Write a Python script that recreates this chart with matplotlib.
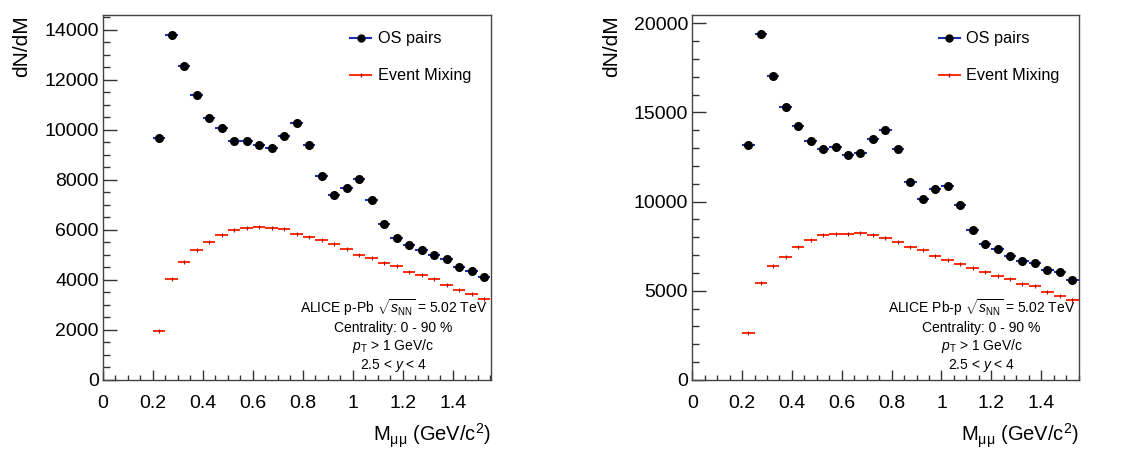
import matplotlib
matplotlib.use('Agg')
from matplotlib import pyplot as plt
from matplotlib.ticker import MultipleLocator

plt.rcParams['font.family'] = ['Liberation Sans', 'DejaVu Sans']
plt.rcParams['mathtext.fontset'] = 'custom'
plt.rcParams['mathtext.rm'] = 'Liberation Sans'
plt.rcParams['mathtext.it'] = 'Liberation Sans:italic'
plt.rcParams['mathtext.bf'] = 'Liberation Sans:bold'

# bin centres (GeV/c^2), bin width 0.05
mass = [0.225, 0.275, 0.325, 0.375, 0.425, 0.475, 0.525, 0.575, 0.625,
        0.675, 0.725, 0.775, 0.825, 0.875, 0.925, 0.975, 1.025, 1.075,
        1.125, 1.175, 1.225, 1.275, 1.325, 1.375, 1.425, 1.475, 1.525]
half_width = 0.025

# p-Pb
os_ppb = [9675, 13790, 12550, 11380, 10460, 10060, 9530, 9535, 9370,
          9260, 9730, 10260, 9370, 8145, 7375, 7665, 8010, 7185,
          6215, 5655, 5390, 5190, 4990, 4830, 4525, 4350, 4125]
em_ppb = [1955, 4045, 4725, 5175, 5495, 5800, 5975, 6055, 6120,
          6080, 6030, 5830, 5710, 5600, 5430, 5230, 4990, 4870,
          4670, 4540, 4300, 4205, 4045, 3805, 3605, 3445, 3245]

# Pb-p
os_pbp = [13185, 19385, 17050, 15295, 14210, 13390, 12940, 13070, 12585,
          12715, 13520, 14025, 12940, 11090, 10160, 10680, 10870, 9785,
          8405, 7600, 7340, 6945, 6665, 6535, 6160, 6030, 5600]
em_pbp = [2615, 5435, 6370, 6910, 7450, 7825, 8140, 8180, 8180,
          8235, 8125, 7955, 7710, 7430, 7300, 6930, 6740, 6500,
          6275, 6030, 5845, 5660, 5380, 5245, 4910, 4685, 4465]

panels = [
    dict(os=os_ppb, em=em_ppb, system='p-Pb', ymax=14580, ymaj=2000, ymin=500,
         rect=[0.0918, 0.1556, 0.3458, 0.8111]),
    dict(os=os_pbp, em=em_pbp, system='Pb-p', ymax=20460, ymaj=5000, ymin=1000,
         rect=[0.6170, 0.1556, 0.3447, 0.8111]),
]

fig = plt.figure(figsize=(11.22, 4.5), dpi=100)

for p in panels:
    ax = fig.add_axes(p['rect'])

    ax.errorbar(mass, p['em'], xerr=half_width, fmt='none', ecolor='#ff2a0a',
                elinewidth=1.4, capsize=0, zorder=2)
    ax.plot(mass, p['em'], ls='none', marker='|', ms=3, mew=0.8,
            color='#a01000', zorder=3)
    ax.errorbar(mass, p['os'], xerr=half_width, fmt='none', ecolor='#1a2fb0',
                elinewidth=1.5, capsize=0, zorder=4)
    ax.plot(mass, p['os'], ls='none', marker='o', ms=5.5, color='black', zorder=5)

    # legend proxies
    ax.plot([], [], color='#1a2fb0', lw=1.5, marker='o', ms=5, mfc='black',
            mec='black', label='OS pairs')
    ax.plot([], [], color='#ff2a0a', lw=1.4, marker='|', ms=3, mec='#a01000',
            label='Event Mixing')
    handles, labels = ax.get_legend_handles_labels()
    ax.legend(handles, labels, loc='upper left', bbox_to_anchor=(0.637, 0.955),
              frameon=False, fontsize=11.7, handlelength=1.3, handletextpad=0.4,
              labelspacing=1.35, borderpad=0, borderaxespad=0)

    ax.set_xlim(0, 1.552)
    ax.set_ylim(0, p['ymax'])
    ax.xaxis.set_major_locator(MultipleLocator(0.2))
    ax.xaxis.set_minor_locator(MultipleLocator(0.05))
    ax.yaxis.set_major_locator(MultipleLocator(p['ymaj']))
    ax.yaxis.set_minor_locator(MultipleLocator(p['ymin']))
    ax.set_xticks([0, 0.2, 0.4, 0.6, 0.8, 1.0, 1.2, 1.4])
    ax.set_xticklabels(['0', '0.2', '0.4', '0.6', '0.8', '1', '1.2', '1.4'])

    ax.tick_params(axis='both', which='both', direction='in', colors='#333333',
                   labelcolor='black', labelsize=14)
    ax.tick_params(axis='x', which='major', length=7.5, width=1, pad=11)
    ax.tick_params(axis='x', which='minor', length=3.8, width=1)
    ax.tick_params(axis='y', which='major', length=10, width=1, pad=3)
    ax.tick_params(axis='y', which='minor', length=5, width=1)
    for s in ax.spines.values():
        s.set_color('#444444')
        s.set_linewidth(1.0)

    ax.set_ylabel('dN/dM', fontsize=15, loc='top')
    ax.yaxis.set_label_coords(-0.185, 1.0)
    ax.set_xlabel(r'M$_{\rm μμ}$ (GeV/c$^{\rm 2}$)', fontsize=14.5, loc='right')
    ax.xaxis.set_label_coords(1.0, -0.115)

    info = [r'ALICE ' + p['system'] + r' $\sqrt{s_{\rm NN}}$ = 5.02 TeV',
            'Centrality: 0 - 90 %',
            r'$p_{\rm T}$ > 1 GeV/c',
            r'2.5 < $y$ < 4']
    for txt, yy in zip(info, [0.197, 0.142, 0.094, 0.041]):
        ax.text(0.748, yy, txt, transform=ax.transAxes, ha='center',
                va='center', fontsize=10)

plt.savefig('out.png', dpi=100)
